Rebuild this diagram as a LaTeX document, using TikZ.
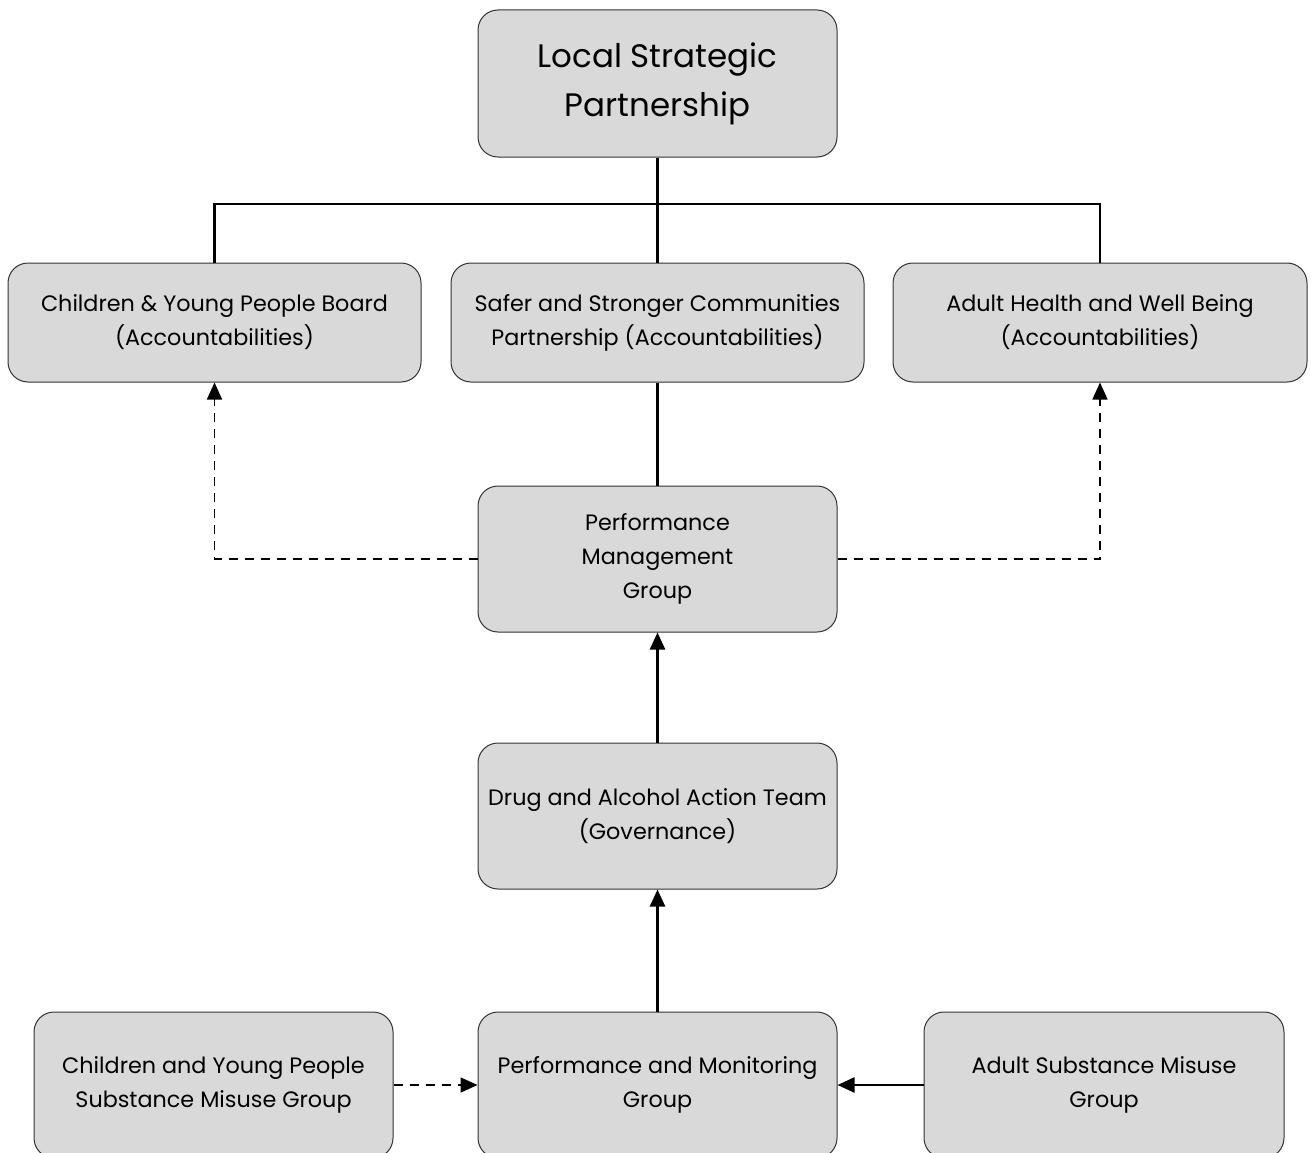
\documentclass[tikz,border=0pt]{standalone}
\usepackage{fontspec}
\setmainfont{Poppins}
\usetikzlibrary{arrows.meta}
\begin{document}
\begin{tikzpicture}[x=1pt,y=-1pt,
  box/.style={draw=black!80, line width=1pt, fill=black!15, rounded corners=20pt, align=center, inner sep=0pt, font=\fontsize{22.3}{34}\selectfont},
  conn/.style={line width=2.4pt, black},
  dconn/.style={line width=1.6pt, black, dash pattern=on 9pt off 7pt},
  tip/.style={-{Triangle[length=17pt,width=15pt]}}
]
\useasboundingbox (0,0) rectangle (1311,1153);
\node[box, minimum width=359pt, minimum height=147pt, font=\fontsize{32.5}{49}\selectfont] (lsp) at (657.5,83.5) {Local Strategic\\Partnership};
\node[box, minimum width=413pt, minimum height=119pt] (cyp) at (214.5,322.5) {Children \& Young People Board\\(Accountabilities)};
\node[box, minimum width=413pt, minimum height=119pt] (ssc) at (657.5,322.5) {Safer and Stronger Communities\\Partnership (Accountabilities)};
\node[box, minimum width=414pt, minimum height=119pt] (ahw) at (1100,322.5) {Adult Health and Well Being\\(Accountabilities)};
\node[box, minimum width=359pt, minimum height=146pt] (pmg) at (657.5,559) {Performance\\Management\\Group};
\node[box, minimum width=359pt, minimum height=146pt] (daat) at (657.5,816) {Drug and Alcohol Action Team\\(Governance)};
\node[box, minimum width=359pt, minimum height=146pt] (cypsm) at (213.5,1085) {Children and Young People\\Substance Misuse Group};
\node[box, minimum width=359pt, minimum height=146pt] (pam) at (657.5,1085) {Performance and Monitoring\\Group};
\node[box, minimum width=360pt, minimum height=146pt] (asm) at (1104,1085) {Adult Substance Misuse\\Group};
\coordinate (bar) at (657.5,204);
\draw[conn] (lsp.south) -- (bar);
\draw[conn] (cyp.north) |- (bar) -| (ahw.north);
\draw[conn] (ssc.north) -- (bar);
\draw[conn] (ssc.south) -- (pmg.north);
\draw[dconn, tip] (pmg.west) -| (cyp.south);
\draw[dconn, tip] (pmg.east) -| (ahw.south);
\draw[conn, tip] (daat.north) -- (pmg.south);
\draw[conn, tip] (pam.north) -- (daat.south);
\draw[dconn, tip] (cypsm.east) -- (pam.west);
\draw[conn, tip] (asm.west) -- (pam.east);
\end{tikzpicture}
\end{document}
